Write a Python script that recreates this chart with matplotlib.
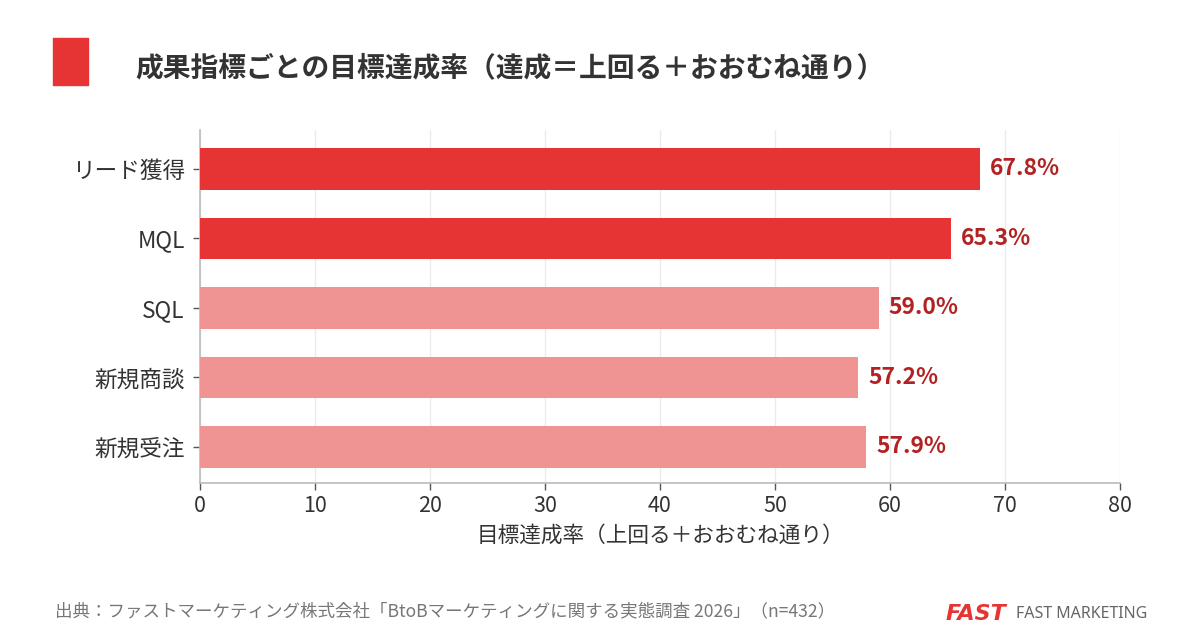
import matplotlib
matplotlib.use("Agg")
import matplotlib.pyplot as plt
from matplotlib.patches import Rectangle

plt.rcParams['font.family'] = ['Noto Sans CJK JP', 'DejaVu Sans']

categories = ['リード獲得', 'MQL', 'SQL', '新規商談', '新規受注']
values = [67.8, 65.3, 59.0, 57.2, 57.9]
bar_colors = ['#E63333', '#E63333', '#F09393', '#F09393', '#F09393']
xticks = [0, 10, 20, 30, 40, 50, 60, 70, 80]

title = '成果指標ごとの目標達成率（達成＝上回る＋おおむね通り）'
xlabel = '目標達成率（上回る＋おおむね通り）'
source = '出典：ファストマーケティング株式会社「BtoBマーケティングに関する実態調査 2026」（n=432）'

fig = plt.figure(figsize=(12, 6.36), dpi=100)
ax = fig.add_axes([200/1200, 1-483/636, 920/1200, 353/636])

ypos = list(range(len(categories)))
ax.barh(ypos, values, height=0.6, color=bar_colors, zorder=3)
for y, v in zip(ypos, values):
    ax.text(v + 0.9, y, f'{v:.1f}%', va='center', ha='left', fontsize=16.5,
            fontweight='bold', color='#B22222', zorder=4)

ax.set_xlim(0, 80)
ax.set_ylim(4.52, -0.56)
ax.set_yticks(ypos)
ax.set_yticklabels(categories, fontsize=16.3, color='#333333')
ax.set_xticks(xticks)
ax.set_xticklabels([str(t) for t in xticks], fontsize=15.5, color='#333333')
ax.set_xlabel(xlabel, fontsize=15.6, color='#333333', labelpad=6)
ax.grid(axis='x', color='#EBEBEB', linewidth=1, zorder=0)
for s in ['top', 'right']:
    ax.spines[s].set_visible(False)
for s in ['left', 'bottom']:
    ax.spines[s].set_color('#BBBBBB')
    ax.spines[s].set_linewidth(1.2)
ax.tick_params(axis='both', colors='#555555', length=5, width=1)
ax.tick_params(axis='y', pad=6, labelcolor='#333333')
ax.tick_params(axis='x', labelcolor='#333333')

# title block
fig.patches.append(Rectangle((53/1200, 1-85/636), 35/1200, 47/636,
                             transform=fig.transFigure, color='#E63333'))
fig.text(135/1200, 1-68/636, title, fontsize=20, fontweight='bold',
         color='#333333', va='center', ha='left')

# footer
fig.text(55/1200, 1-611/636, source, fontsize=12.6, color='#777777',
         va='center', ha='left')
fig.text(946/1200, 1-614/636, 'FAST', fontsize=16, fontweight='heavy',
         style='italic', color='#E63333', va='center', ha='left',
         family=['DejaVu Sans'])
fig.text(1016/1200, 1-614/636, 'FAST MARKETING', fontsize=11.5, color='#666666',
         va='center', ha='left', family=['Noto Sans', 'DejaVu Sans'])

fig.savefig('out.png', dpi=100, facecolor='white')
